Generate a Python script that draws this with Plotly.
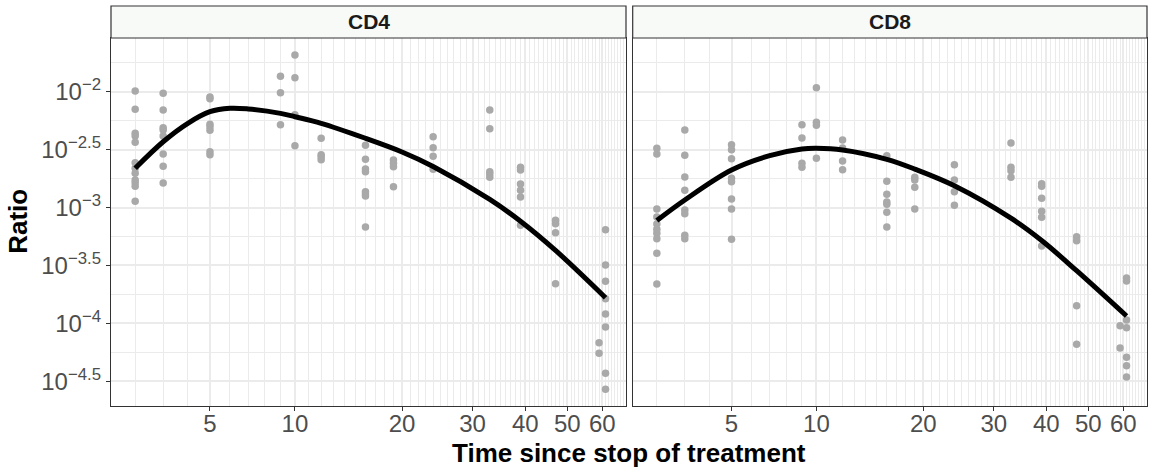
import plotly.graph_objects as go

# ---- data -----------------------------------------------------------------
# Sampling times (weeks after treatment stop) and log10(ratio) of each sample
CD4_TIMES = [2, 3, 5, 9, 10, 12, 16, 19, 24, 33, 39, 47, 59, 61]
CD4_LOG_RATIO = [
    [-1.994, -2.152, -2.359, -2.382, -2.437, -2.613, -2.661, -2.704, -2.762, -2.786, -2.817, -2.946],
    [-2.014, -2.158, -2.311, -2.330, -2.382, -2.538, -2.644, -2.788],
    [-2.046, -2.060, -2.281, -2.302, -2.333, -2.518, -2.544],
    [-1.867, -2.009, -2.285],
    [-1.683, -1.879, -2.199, -2.466],
    [-2.402, -2.544, -2.561, -2.587],
    [-2.463, -2.584, -2.667, -2.690, -2.863, -2.883, -2.900, -3.168],
    [-2.590, -2.618, -2.647, -2.820],
    [-2.388, -2.483, -2.558, -2.670],
    [-2.158, -2.319, -2.691, -2.711, -2.739],
    [-2.653, -2.676, -2.797, -2.851, -2.909, -3.153],
    [-3.110, -3.139, -3.217, -3.657],
    [-4.167, -4.258],
    [-3.191, -3.496, -3.637, -3.787, -3.919, -4.031, -4.431, -4.569],
]

CD8_TIMES = [2, 3, 5, 9, 10, 12, 16, 19, 24, 33, 39, 47, 59, 61]
CD8_LOG_RATIO = [
    [-2.489, -2.538, -3.013, -3.082, -3.141, -3.188, -3.222, -3.269, -3.395, -3.661],
    [-2.331, -2.549, -2.736, -2.851, -3.021, -3.053, -3.240, -3.269],
    [-2.457, -2.501, -2.578, -2.748, -2.777, -2.926, -3.013, -3.274],
    [-2.285, -2.399, -2.618, -2.653],
    [-1.965, -2.264, -2.290, -2.575],
    [-2.417, -2.486, -2.598, -2.673],
    [-2.552, -2.773, -2.886, -2.952, -2.972, -3.041, -3.168],
    [-2.739, -2.762, -2.825, -3.013],
    [-2.630, -2.762, -2.863, -2.981],
    [-2.443, -2.653, -2.682, -2.739],
    [-2.794, -2.817, -2.920, -3.032, -3.084, -3.332],
    [-3.252, -3.286, -3.847, -4.181],
    [-4.020, -4.213],
    [-3.608, -3.634, -3.971, -4.037, -4.293, -4.365, -4.463],
]

# Smoothed trend for each population (log10 ratio)
CD4_FIT_TIMES = [2, 3, 4, 5, 6, 7, 9, 10, 12, 16, 20, 24, 33, 39, 47, 61]
CD4_FIT_LOG = [-2.661, -2.432, -2.273, -2.173, -2.143, -2.149, -2.187, -2.216,
               -2.273, -2.402, -2.520, -2.645, -2.930, -3.118, -3.370, -3.778]
CD8_FIT_TIMES = [2, 3, 5, 7, 9, 10, 12, 16, 19, 24, 33, 39, 47, 61]
CD8_FIT_LOG = [-3.112, -2.935, -2.676, -2.552, -2.495, -2.489, -2.503, -2.584,
               -2.668, -2.812, -3.092, -3.285, -3.545, -3.936]

PANELS = ["CD4", "CD8"]
X_TICKS = [5, 10, 20, 30, 40, 50, 60]
Y_TICK_EXP = [-2, -2.5, -3, -3.5, -4, -4.5]
Y_TICK_TEXT = ["10<sup>\u22122</sup>", "10<sup>\u22122.5</sup>", "10<sup>\u22123</sup>",
               "10<sup>\u22123.5</sup>", "10<sup>\u22124</sup>", "10<sup>\u22124.5</sup>"]
Y_MINOR_EXP = [-1.75, -2.25, -2.75, -3.25, -3.75, -4.25]

# time axis is drawn as log10(time + offset)
X_OFFSET = 5

# ---- styling --------------------------------------------------------------
FONT = "Liberation Sans, Arial, Helvetica, sans-serif"
POINT_COLOR = "#A9A9A9"
GRID = "#EBEBEB"
BORDER = "#333333"
W, H = 1150, 469

panel_px = [(111, 626), (632.7, 1147)]
top_px, bottom_px = 38, 405.7
strip_top_px = 6

def px_x(v):
    return v / W

def px_y(v):
    return (H - v) / H

fig = go.Figure()

datasets = [
    (CD4_TIMES, CD4_LOG_RATIO, CD4_FIT_TIMES, CD4_FIT_LOG),
    (CD8_TIMES, CD8_LOG_RATIO, CD8_FIT_TIMES, CD8_FIT_LOG),
]

for i, (times, logs, fit_t, fit_log) in enumerate(datasets):
    suffix = "" if i == 0 else str(i + 1)
    xs, ys = [], []
    for t, vals in zip(times, logs):
        for v in vals:
            xs.append(t + X_OFFSET)
            ys.append(10 ** v)
    fig.add_trace(go.Scatter(
        x=xs, y=ys, mode="markers",
        marker=dict(color=POINT_COLOR, size=7.5, line=dict(width=0)),
        xaxis="x" + suffix, yaxis="y" + suffix, showlegend=False,
        hoverinfo="skip",
    ))
    fig.add_trace(go.Scatter(
        x=[t + X_OFFSET for t in fit_t], y=[10 ** v for v in fit_log],
        mode="lines", line=dict(color="black", width=5, shape="spline", smoothing=1.0),
        xaxis="x" + suffix, yaxis="y" + suffix, showlegend=False,
        hoverinfo="skip",
    ))

minor_x = [t + X_OFFSET for t in range(2, 68) if t not in X_TICKS]

layout = dict(
    width=W, height=H,
    margin=dict(l=0, r=0, t=0, b=0),
    paper_bgcolor="white", plot_bgcolor="white",
    font=dict(family=FONT, color="#4D4D4D"),
    showlegend=False,
    shapes=[], annotations=[],
)

for i, name in enumerate(PANELS):
    suffix = "" if i == 0 else str(i + 1)
    x0, x1 = panel_px[i]
    layout["xaxis" + suffix] = dict(
        type="log", domain=[px_x(x0), px_x(x1)],
        range=[0.795, 1.862],
        tickmode="array",
        tickvals=[t + X_OFFSET for t in X_TICKS],
        ticktext=[str(t) for t in X_TICKS],
        tickfont=dict(size=24, color="#4D4D4D", family=FONT),
        ticks="outside", ticklen=4, tickwidth=1.2, tickcolor=BORDER,
        ticklabelstandoff=-8,
        showgrid=True, gridcolor=GRID, gridwidth=1.5,
        minor=dict(tickmode="array", tickvals=minor_x, showgrid=True,
                   gridcolor=GRID, gridwidth=1, ticks=""),
        showline=True, linecolor=BORDER, linewidth=1.2, mirror=True,
        zeroline=False, anchor="y" + suffix, fixedrange=True,
    )
    layout["yaxis" + suffix] = dict(
        type="log", domain=[px_y(bottom_px), px_y(top_px)],
        range=[-4.7106, -1.5364],
        tickmode="array",
        tickvals=[10 ** e for e in Y_TICK_EXP],
        ticktext=Y_TICK_TEXT,
        showticklabels=(i == 0),
        tickfont=dict(size=24, color="#4D4D4D", family=FONT),
        ticks="outside" if i == 0 else "", ticklen=4, tickwidth=1.2, tickcolor=BORDER,
        showgrid=True, gridcolor=GRID, gridwidth=1.5,
        minor=dict(tickmode="array", tickvals=[10 ** e for e in Y_MINOR_EXP],
                   showgrid=True, gridcolor=GRID, gridwidth=1, ticks=""),
        showline=True, linecolor=BORDER, linewidth=1.2, mirror=True,
        zeroline=False, anchor="x" + suffix, fixedrange=True,
    )
    # facet strip
    layout["shapes"].append(dict(
        type="rect", xref="paper", yref="paper",
        x0=px_x(x0), x1=px_x(x1), y0=px_y(top_px), y1=px_y(strip_top_px),
        fillcolor="#F8FAF8", line=dict(color=BORDER, width=1.2), layer="above",
    ))
    layout["annotations"].append(dict(
        text=name, xref="paper", yref="paper",
        x=px_x((x0 + x1) / 2), y=px_y((top_px + strip_top_px) / 2),
        xanchor="center", yanchor="middle", showarrow=False,
        font=dict(size=21, color="#1A1A1A", family=FONT, weight="bold"),
    ))

layout["annotations"].append(dict(
    text="Ratio", xref="paper", yref="paper",
    x=px_x(18), y=px_y((top_px + bottom_px) / 2),
    xanchor="center", yanchor="middle", textangle=-90, showarrow=False,
    font=dict(size=26, color="black", family=FONT, weight="bold"),
))
layout["annotations"].append(dict(
    text="Time since stop of treatment", xref="paper", yref="paper",
    x=px_x((panel_px[0][0] + panel_px[1][1]) / 2), y=px_y(453),
    xanchor="center", yanchor="middle", showarrow=False,
    font=dict(size=26, color="black", family=FONT, weight="bold"),
))

fig.update_layout(**layout)
fig.write_html("out.html")
